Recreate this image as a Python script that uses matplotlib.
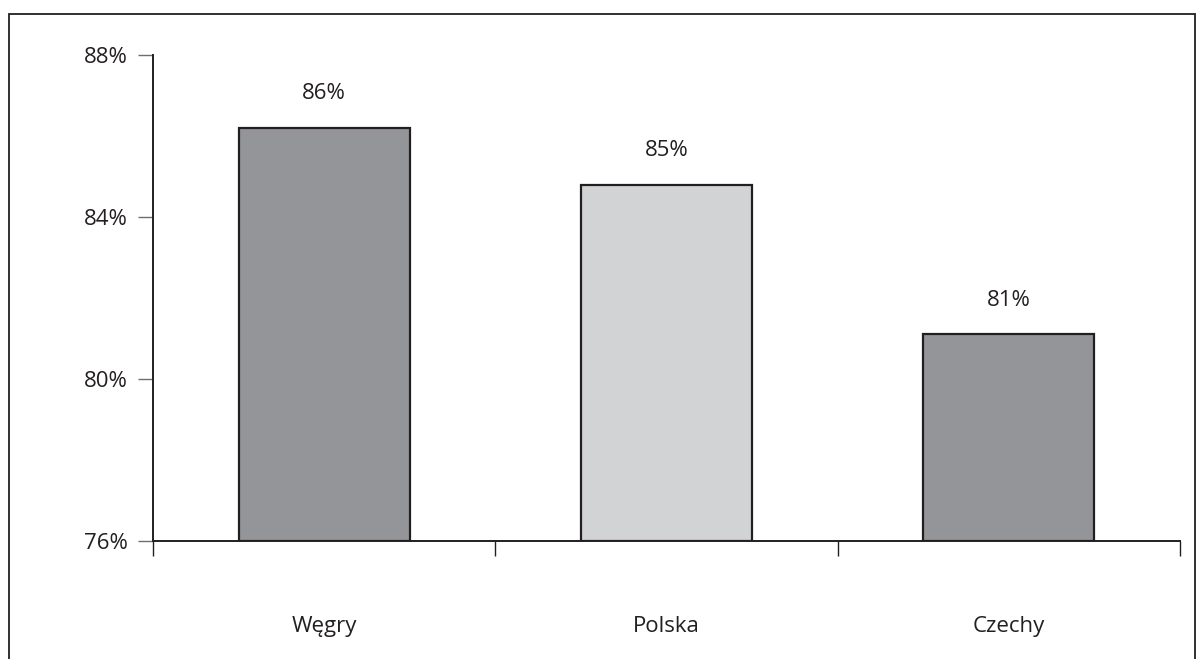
import matplotlib.pyplot as plt
from matplotlib.patches import Rectangle

countries = ["Węgry", "Polska", "Czechy"]
shares = [86.2, 84.8, 81.1]
bar_colors = ["#939598", "#d1d3d4", "#939598"]
y_ticks = [76, 80, 84, 88]

ink = "#231f20"
plt.rcParams["font.family"] = ["Open Sans", "DejaVu Sans"]

fig = plt.figure(figsize=(12.03, 6.59), dpi=100)
ax = fig.add_axes([153 / 1203, 1 - 541 / 659, (1180 - 153) / 1203, (541 - 55) / 659])

pos = [i + 0.5 for i in range(len(countries))]
ax.bar(pos, [v - 76 for v in shares], bottom=76, width=0.5,
       color=bar_colors, edgecolor=ink, linewidth=1.6, zorder=2)

for x, v in zip(pos, shares):
    ax.annotate(f"{v:.0f}%", (x, v), xytext=(0, 17), textcoords="offset points",
                ha="center", va="bottom", fontsize=16, color=ink)

ax.set_xlim(0, 3)
ax.set_ylim(76, 88)
ax.set_yticks(y_ticks)
ax.set_yticklabels([f"{t}%" for t in y_ticks], fontsize=16, color=ink)
ax.set_xticks([0, 1, 2, 3])
ax.set_xticklabels([])
ax.set_xticks(pos, minor=True)
ax.set_xticklabels(countries, minor=True, fontsize=16, color=ink)
ax.tick_params(axis="x", which="major", direction="out", length=11, width=1, color=ink)
ax.tick_params(axis="x", which="minor", length=0, pad=54)
ax.tick_params(axis="y", direction="out", length=11, width=1, color="#6d6e71", pad=7)

for side in ("top", "right"):
    ax.spines[side].set_visible(False)
for side in ("left", "bottom"):
    ax.spines[side].set_color(ink)
    ax.spines[side].set_linewidth(1.4)

# outer frame running off the bottom edge
fig.patches.append(Rectangle((9 / 1203, -0.05), (1195 - 9) / 1203, 1.05 - 14 / 659,
                             transform=fig.transFigure, fill=False,
                             edgecolor=ink, linewidth=1.3))

fig.savefig("out.png", dpi=100)
